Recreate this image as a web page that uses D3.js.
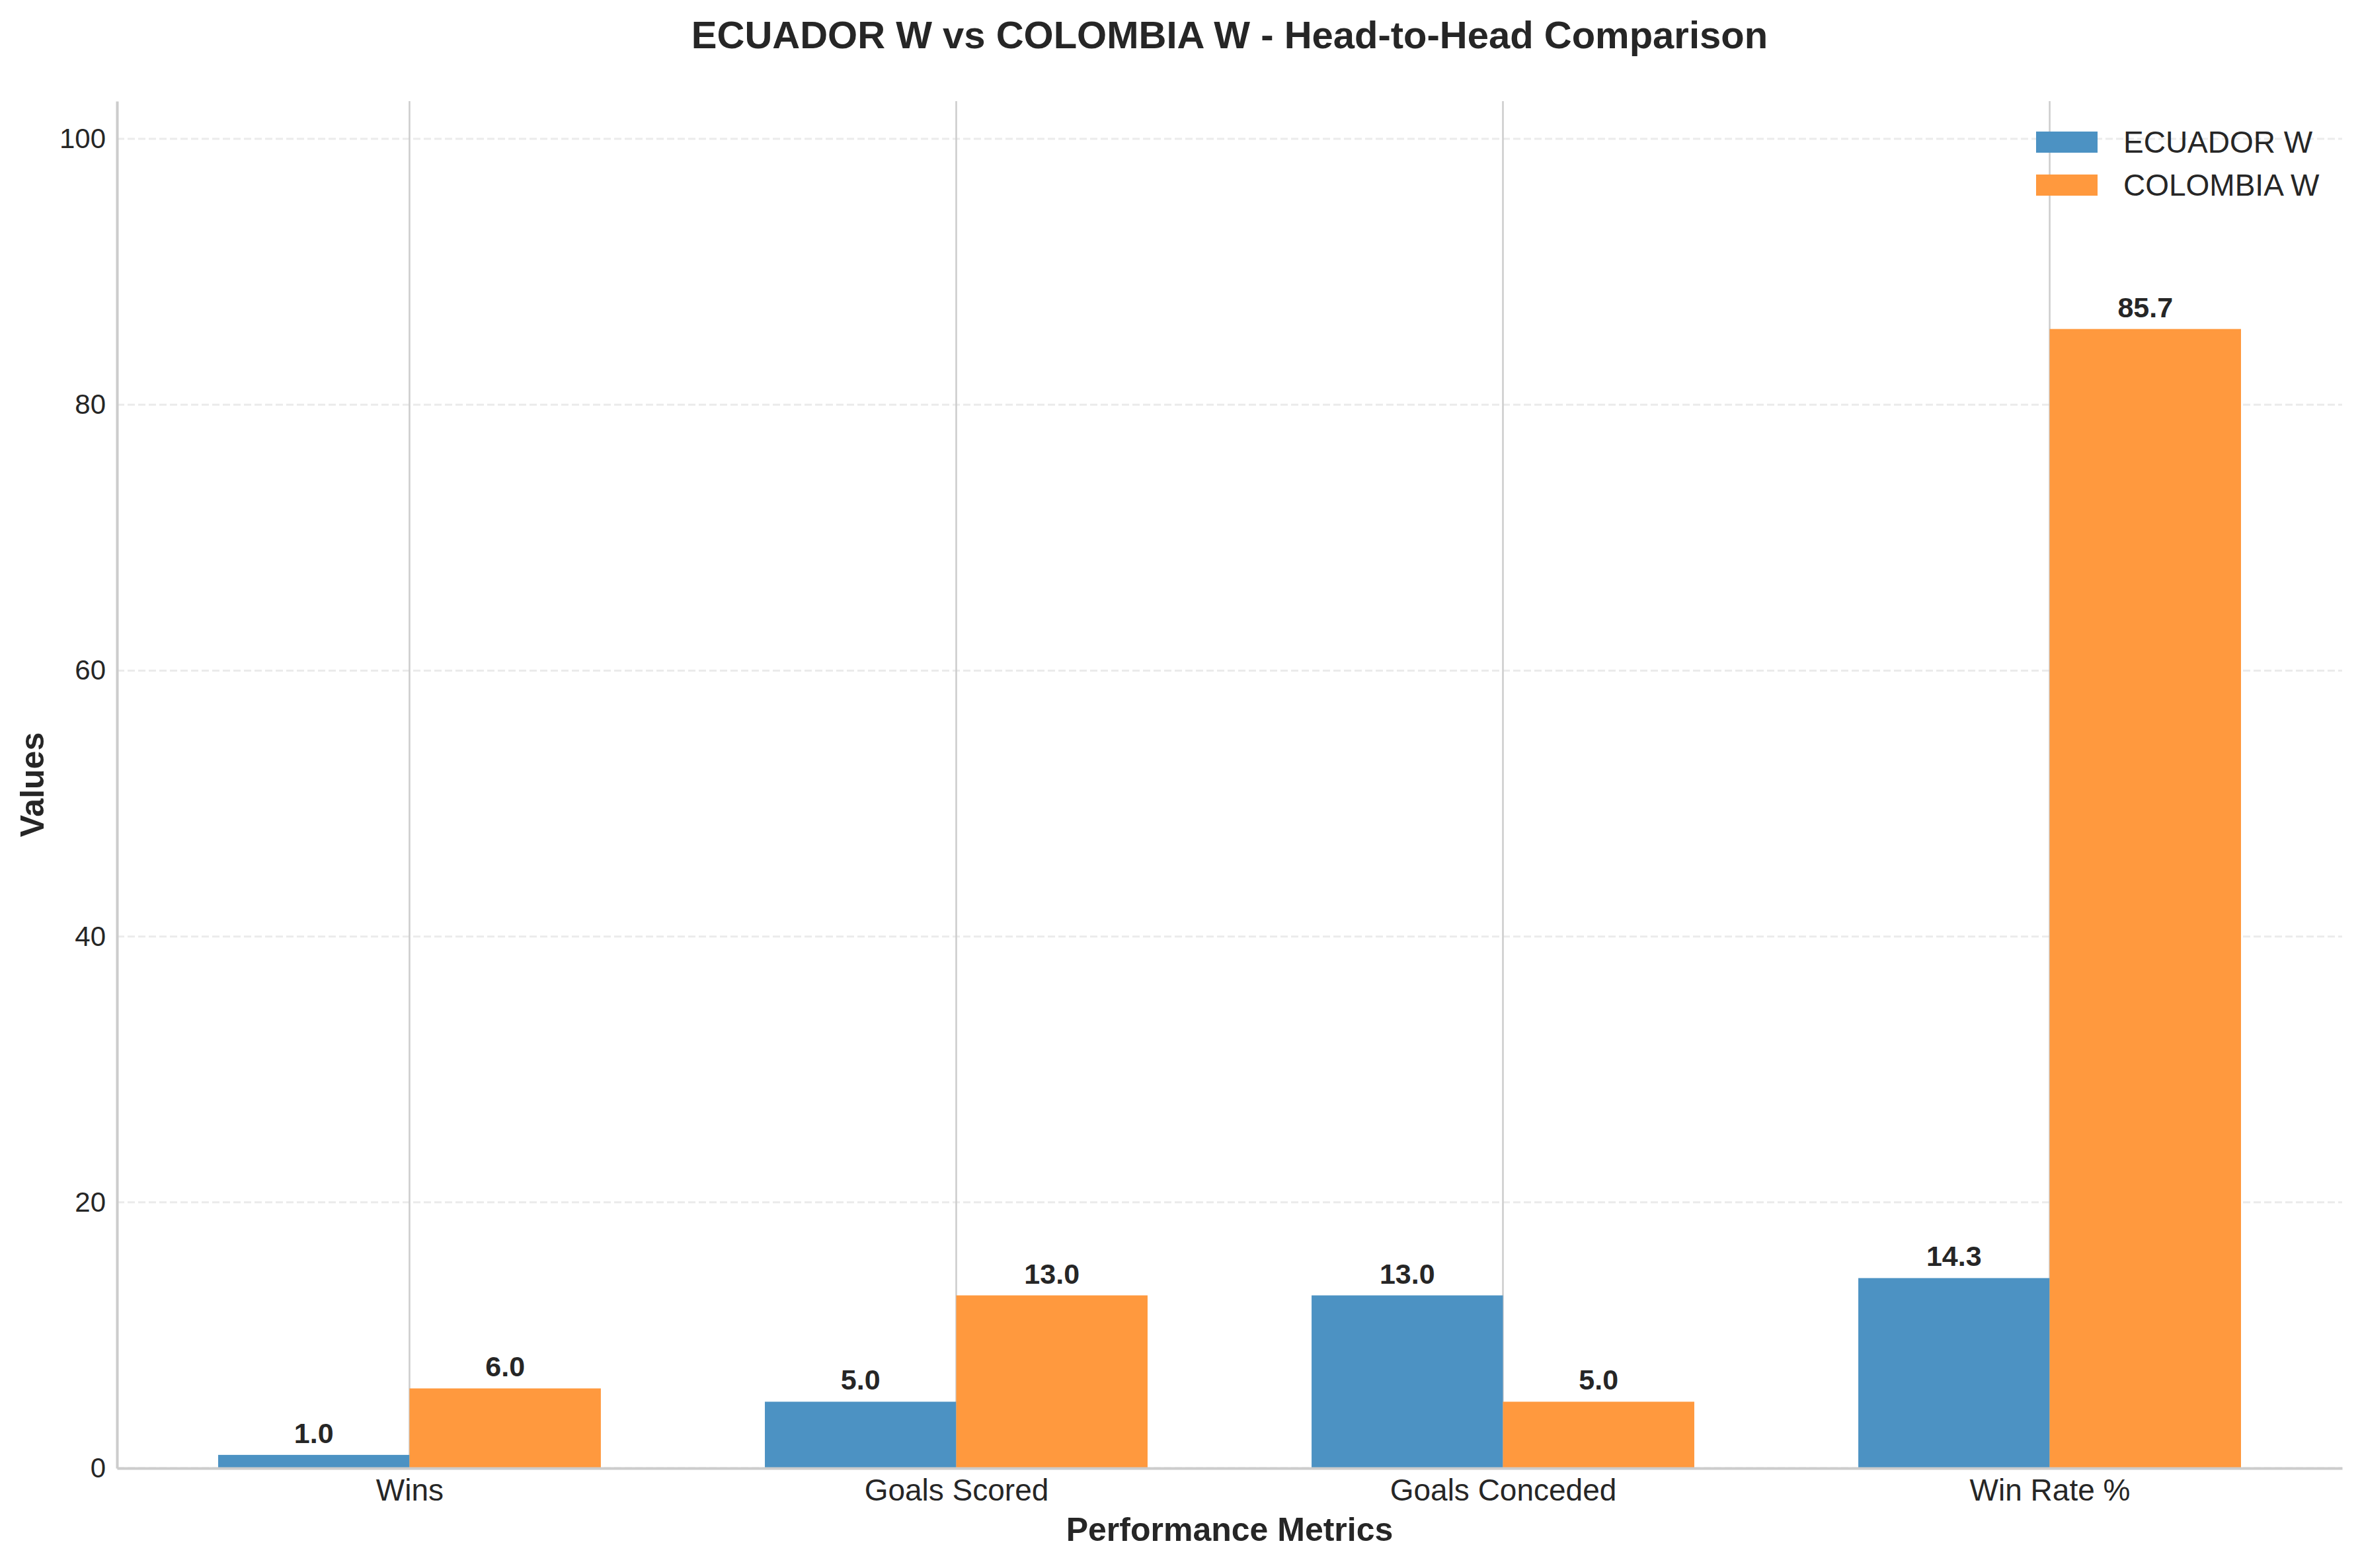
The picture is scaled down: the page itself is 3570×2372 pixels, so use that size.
<!DOCTYPE html>
<meta charset="utf-8">
<title>ECUADOR W vs COLOMBIA W</title>
<style>
body {
  margin: 0;
  background: #fff;
  font-family: "Liberation Sans", Arial, Helvetica, sans-serif;
}
svg text { fill: #262626; }
</style>
<body>
<script src="https://cdn.jsdelivr.net/npm/d3@7"></script>
<script>
'use strict';

// data
const metrics = ["Wins", "Goals Scored", "Goals Conceded", "Win Rate %"];
const ecuador = [1.0, 5.0, 13.0, 14.3];
const colombia = [6.0, 13.0, 5.0, 85.7];
const teams = ["ECUADOR W", "COLOMBIA W"];
const yTicks = [0, 20, 40, 60, 80, 100];

const W = 3570, H = 2372;
const margin = {top: 153, right: 27, bottom: 151, left: 177};
const barW = 0.35;

const colors = ["#4c92c3", "#ff993e"];

const svg = d3.select("body").append("svg")
    .attr("width", W)
    .attr("height", H);

const x = d3.scaleLinear()
    .domain([-barW - 0.185, metrics.length - 1 + barW + 0.185])
    .range([margin.left, W - margin.right]);

const y = d3.scaleLinear()
    .domain([0, d3.max(colombia.concat(ecuador)) * 1.2])
    .range([H - margin.bottom, margin.top]);

// horizontal dashed grid
svg.append("g")
  .selectAll("line")
  .data(yTicks)
  .enter().append("line")
    .attr("x1", margin.left)
    .attr("x2", W - margin.right)
    .attr("y1", (d) => y(d))
    .attr("y2", (d) => y(d))
    .attr("stroke", "#ebebeb")
    .attr("stroke-width", 3)
    .attr("stroke-dasharray", "11,5");

// vertical grid at category centres
svg.append("g")
  .selectAll("line")
  .data(metrics)
  .enter().append("line")
    .attr("x1", (d, i) => x(i))
    .attr("x2", (d, i) => x(i))
    .attr("y1", margin.top)
    .attr("y2", H - margin.bottom)
    .attr("stroke", "#cccccc")
    .attr("stroke-width", 2.5);

const series = [ecuador, colombia];

series.forEach(function(vals, s) {
  const off = s === 0 ? -barW : 0;
  const g = svg.append("g");
  g.selectAll("rect")
    .data(vals)
    .enter().append("rect")
      .attr("x", (d, i) => x(i + off))
      .attr("width", (d, i) => x(i + off + barW) - x(i + off))
      .attr("y", (d) => y(d))
      .attr("height", (d) => y(0) - y(d))
      .attr("fill", colors[s]);
  g.selectAll("text")
    .data(vals)
    .enter().append("text")
      .attr("x", (d, i) => x(i + off + barW / 2))
      .attr("y", (d) => y(d) - 18)
      .attr("text-anchor", "middle")
      .style("font-size", "43px")
      .style("font-weight", "bold")
      .text((d) => d.toFixed(1));
});

// axes
const yAxis = svg.append("g")
    .attr("transform", "translate(" + margin.left + ",0)")
    .call(d3.axisLeft(y).tickValues(yTicks).tickSize(0).tickPadding(17));
yAxis.selectAll("text")
    .style("font-size", "42px")
    .style("font-family", "'Liberation Sans', Arial, sans-serif");
yAxis.select(".domain").attr("stroke", "#cccccc").attr("stroke-width", 4);

const xAxis = svg.append("g")
    .attr("transform", "translate(0," + y(0) + ")")
    .call(d3.axisBottom(x).tickValues(d3.range(metrics.length))
      .tickFormat((d) => metrics[d]).tickSize(0).tickPadding(16));
xAxis.selectAll("text")
    .style("font-size", "46px")
    .style("font-family", "'Liberation Sans', Arial, sans-serif");
xAxis.select(".domain").attr("stroke", "#cccccc").attr("stroke-width", 4);

// titles
svg.append("text")
    .attr("x", (margin.left + W - margin.right) / 2)
    .attr("y", 73)
    .attr("text-anchor", "middle")
    .style("font-size", "58px")
    .style("font-weight", "bold")
    .text("ECUADOR W vs COLOMBIA W - Head-to-Head Comparison");

svg.append("text")
    .attr("x", (margin.left + W - margin.right) / 2)
    .attr("y", 2331)
    .attr("text-anchor", "middle")
    .style("font-size", "50px")
    .style("font-weight", "bold")
    .text("Performance Metrics");

svg.append("text")
    .attr("transform", "translate(66," + (margin.top + H - margin.bottom) / 2 + ") rotate(-90)")
    .attr("text-anchor", "middle")
    .style("font-size", "50px")
    .style("font-weight", "bold")
    .text("Values");

// legend
const legend = svg.append("g")
    .attr("transform", "translate(3080,199)");
const item = legend.selectAll("g")
    .data(teams)
  .enter().append("g")
    .attr("transform", (d, i) => "translate(0," + i * 65 + ")");
item.append("rect")
    .attr("width", 93)
    .attr("height", 32)
    .attr("fill", (d, i) => colors[i]);
item.append("text")
    .attr("x", 132)
    .attr("y", 32)
    .style("font-size", "46px")
    .text((d) => d);
</script>
</body>
